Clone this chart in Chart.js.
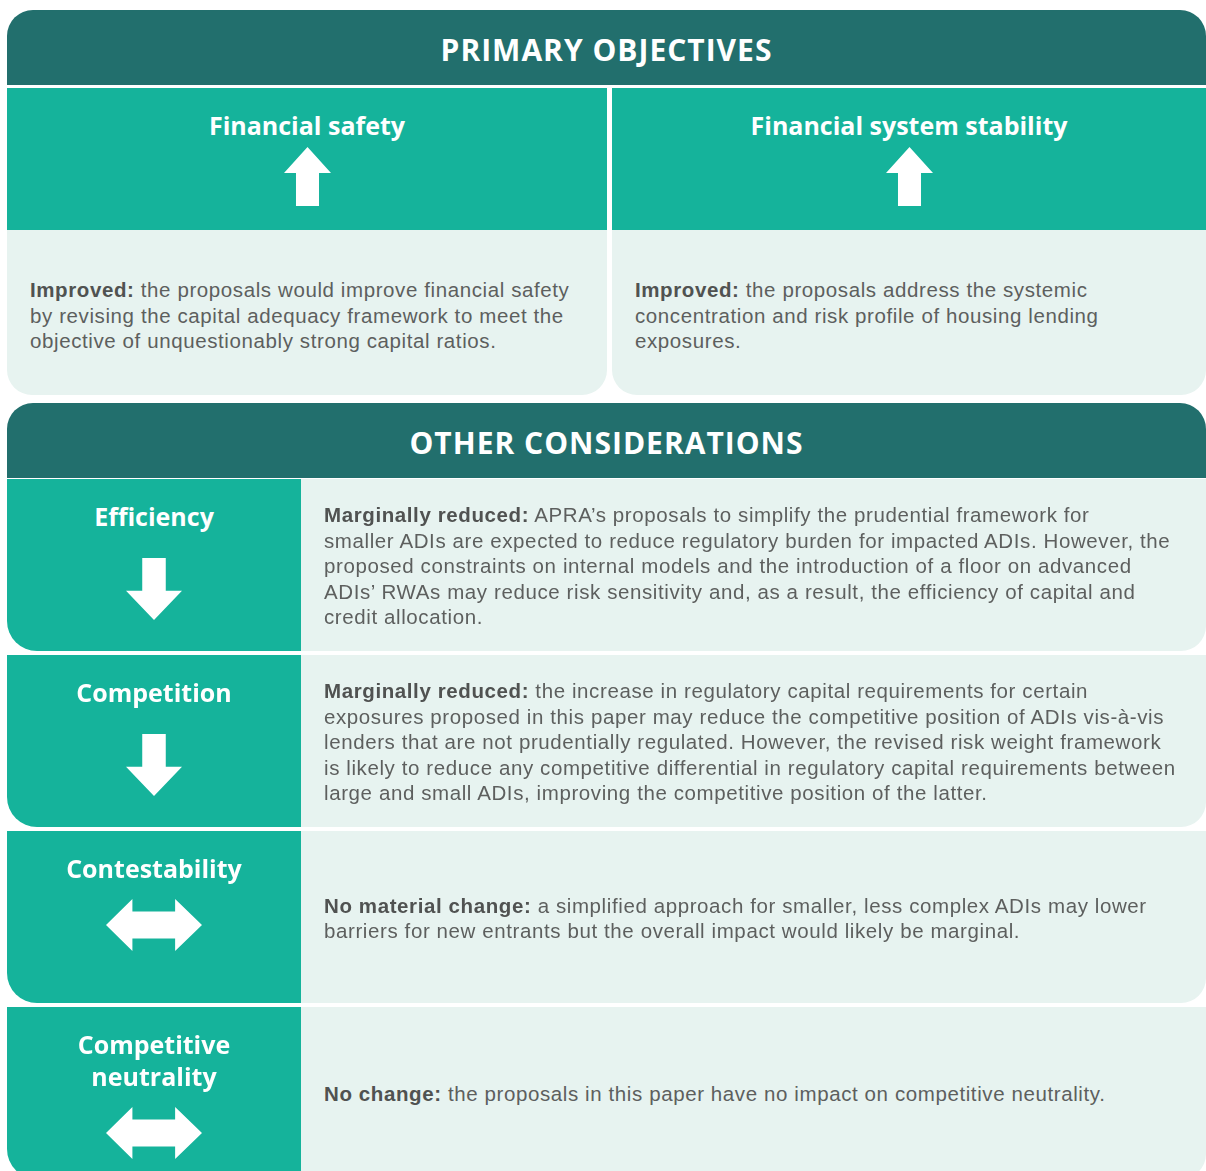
<!DOCTYPE html>
<html lang="en">
<head>
  <meta charset="UTF-8" />
  <title>Primary objectives and other considerations</title>
  <script src="https://cdn.jsdelivr.net/npm/chart.js"></script>
  <style>
    body { margin: 0; background: #fff; overflow: hidden; font-family: "Liberation Sans", Arial, sans-serif; }
    .page { position: absolute; left: 7px; top: 10px; width: 1199px; }
    .header { height: 75px; background: #226f6d; color: #fff; border-radius: 26px 26px 0 0;
      text-align: center; font: 700 30px/80px "Open Sans", sans-serif; letter-spacing: 1px; overflow: hidden; }
    .teal { background: #15b39b; color: #fff; text-align: center; }
    .teal h3 { margin: 0; padding-top: 21px; font: 700 25px/32px "Open Sans", sans-serif; white-space: pre-line; }
    .light { background: #e7f3f0; color: #5d5f5e; font-size: 20.5px; letter-spacing: 0.6px; line-height: 25.5px;
      display: flex; align-items: center; white-space: nowrap; box-sizing: border-box; }
    .light b { color: #505251; }
    .arrow { display: block; margin: 0 auto; }

    .top-grid { display: grid; grid-template-columns: 600px 594px; column-gap: 5px; margin-top: 3px; }
    .top-grid .teal { height: 142px; }
    .top-grid .light { height: 165px; border-radius: 0 0 25px 25px; padding: 6px 0 0 23px; }

    .second { margin-top: 8px; }
    .rows { margin-top: 1px; }
    .row { display: grid; grid-template-columns: 294px 905px; height: 172px; margin-bottom: 4px; }
    .row .teal { border-radius: 0 0 0 30px; }
    .row .light { border-radius: 0 0 25px 0; padding: 2px 0 0 23px; }
  </style>
</head>
<body>
  <div class="page">
    <div class="header" id="topTitle"></div>
    <div class="top-grid" id="objectiveGrid"></div>
    <div class="header second" id="bottomTitle"></div>
    <div class="rows" id="considerationRows"></div>
  </div>

  <script>
    const sectionTitles = ["PRIMARY OBJECTIVES", "OTHER CONSIDERATIONS"];

    const objectives = ["Financial safety", "Financial system stability"];
    const objectiveTrend = ["up", "up"];
    const objectiveLead = ["Improved:", "Improved:"];
    const objectiveText = [
      ["the proposals would improve financial safety",
       "by revising the capital adequacy framework to meet the",
       "objective of unquestionably strong capital ratios."],
      ["the proposals address the systemic",
       "concentration and risk profile of housing lending",
       "exposures."]
    ];

    const considerations = ["Efficiency", "Competition", "Contestability", "Competitive\nneutrality"];
    const considerationTrend = ["down", "down", "both", "both"];
    const considerationLead = ["Marginally reduced:", "Marginally reduced:", "No material change:", "No change:"];
    const considerationText = [
      ["APRA’s proposals to simplify the prudential framework for",
       "smaller ADIs are expected to reduce regulatory burden for impacted ADIs. However, the",
       "proposed constraints on internal models and the introduction of a floor on advanced",
       "ADIs’ RWAs may reduce risk sensitivity and, as a result, the efficiency of capital and",
       "credit allocation."],
      ["the increase in regulatory capital requirements for certain",
       "exposures proposed in this paper may reduce the competitive position of ADIs vis-à-vis",
       "lenders that are not prudentially regulated. However, the revised risk weight framework",
       "is likely to reduce any competitive differential in regulatory capital requirements between",
       "large and small ADIs, improving the competitive position of the latter."],
      ["a simplified approach for smaller, less complex ADIs may lower",
       "barriers for new entrants but the overall impact would likely be marginal."],
      ["the proposals in this paper have no impact on competitive neutrality."]
    ];

    // arrow outlines in unit space (0..1 on both hidden scales, y grows downward)
    const arrowShapes = {
      up:   [[0.5, 0], [1, 0.44], [0.745, 0.44], [0.745, 1], [0.255, 1], [0.255, 0.44], [0, 0.44]],
      down: [[0.29, 0], [0.71, 0], [0.71, 0.53], [1, 0.53], [0.5, 1], [0, 0.53], [0.29, 0.53]],
      both: [[0, 0.5], [0.275, 0], [0.275, 0.24], [0.72, 0.24], [0.72, 0], [1, 0.5], [0.72, 1],
             [0.72, 0.76], [0.275, 0.76], [0.275, 1]]
    };
    const arrowSize = { up: [47, 59], down: [56, 62], both: [96, 52] };
    const arrowGap = { up: 6, down: 26, both: 15 };

    const arrowPlugin = {
      id: "arrowPlugin",
      afterDraw(chart, args, opts) {
        const pts = arrowShapes[opts.dir];
        const { x, y } = chart.scales;
        const ctx = chart.ctx;
        ctx.save();
        ctx.fillStyle = "#ffffff";
        ctx.beginPath();
        pts.forEach(([px, py], i) => {
          const cx = x.getPixelForValue(px), cy = y.getPixelForValue(py);
          i ? ctx.lineTo(cx, cy) : ctx.moveTo(cx, cy);
        });
        ctx.closePath();
        ctx.fill();
        ctx.restore();
      }
    };

    function makeArrow(dir) {
      const canvas = document.createElement("canvas");
      canvas.className = "arrow";
      canvas.width = arrowSize[dir][0];
      canvas.height = arrowSize[dir][1];
      canvas.style.marginTop = arrowGap[dir] + "px";
      new Chart(canvas, {
        type: "scatter",
        data: { datasets: [] },
        options: {
          responsive: false,
          animation: false,
          events: [],
          layout: { padding: 0 },
          plugins: { legend: { display: false }, tooltip: { enabled: false }, arrowPlugin: { dir } },
          scales: {
            x: { type: "linear", min: 0, max: 1, display: false },
            y: { type: "linear", min: 0, max: 1, reverse: true, display: false }
          }
        },
        plugins: [arrowPlugin]
      });
      return canvas;
    }

    function tealCell(label, dir) {
      const cell = document.createElement("div");
      cell.className = "teal";
      const h = document.createElement("h3");
      h.textContent = label;
      cell.appendChild(h);
      cell.appendChild(makeArrow(dir));
      return cell;
    }

    function lightCell(lead, lines) {
      const cell = document.createElement("div");
      cell.className = "light";
      const p = document.createElement("div");
      lines.forEach((line, i) => {
        if (i === 0) {
          const b = document.createElement("b");
          b.textContent = lead;
          p.appendChild(b);
          p.appendChild(document.createTextNode(" " + line));
        } else {
          p.appendChild(document.createElement("br"));
          p.appendChild(document.createTextNode(line));
        }
      });
      cell.appendChild(p);
      return cell;
    }

    document.getElementById("topTitle").textContent = sectionTitles[0];
    document.getElementById("bottomTitle").textContent = sectionTitles[1];

    // top block: two columns, teal heading cell above light text cell
    const grid = document.getElementById("objectiveGrid");
    objectives.forEach((o, i) => grid.appendChild(tealCell(o, objectiveTrend[i])));
    objectives.forEach((o, i) => grid.appendChild(lightCell(objectiveLead[i], objectiveText[i])));

    // bottom block: one row per consideration
    const rows = document.getElementById("considerationRows");
    considerations.forEach((c, i) => {
      const row = document.createElement("div");
      row.className = "row";
      row.appendChild(tealCell(c, considerationTrend[i]));
      row.appendChild(lightCell(considerationLead[i], considerationText[i]));
      rows.appendChild(row);
    });
  </script>
</body>
</html>
